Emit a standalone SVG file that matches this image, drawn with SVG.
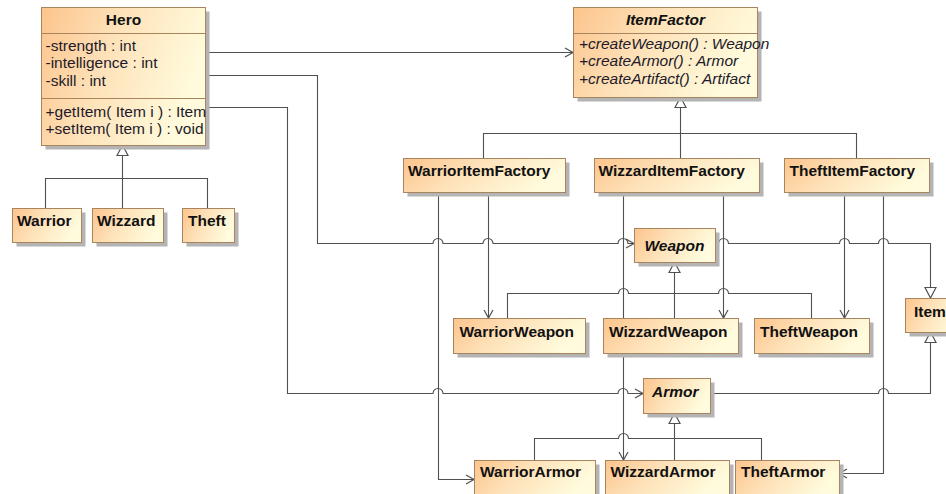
<svg xmlns="http://www.w3.org/2000/svg" width="946" height="494" viewBox="0 0 946 494">
<style>
.box{fill:url(#g);stroke:#a8855f;stroke-width:1}
.sh{fill:#b4b4b4}
.dv{stroke:#a8855f;stroke-width:1}
.n{font-family:"Liberation Sans",Arial,sans-serif;font-size:15.5px;font-weight:bold;fill:#111}
.ni{font-family:"Liberation Sans",Arial,sans-serif;font-size:15.5px;font-weight:bold;font-style:italic;fill:#111}
.m{font-family:"Liberation Sans",Arial,sans-serif;font-size:15.5px;fill:#221a2a}
.mi{font-family:"Liberation Sans",Arial,sans-serif;font-size:15.5px;font-style:italic;fill:#221a2a}
.c{fill:none;stroke:#505050;stroke-width:1.1}
.a{marker-end:url(#open)}
.t{marker-end:url(#tri)}
</style>
<defs>
<linearGradient id="g" x1="0" y1="0" x2="1" y2="0.3">
<stop offset="0" stop-color="#fcc48c"/>
<stop offset="0.45" stop-color="#fee1b8"/>
<stop offset="1" stop-color="#fffbdc"/>
</linearGradient>
<marker id="open" markerUnits="userSpaceOnUse" markerWidth="12" markerHeight="12" refX="9" refY="5" orient="auto" overflow="visible">
<path d="M1,0.5 L9,5 L1,9.5" fill="none" stroke="#505050" stroke-width="1.2"/>
</marker>
<marker id="tri" markerUnits="userSpaceOnUse" markerWidth="14" markerHeight="14" refX="11" refY="6" orient="auto" overflow="visible">
<path d="M0.5,0.5 L11,6 L0.5,11.5 Z" fill="#fff" stroke="#505050" stroke-width="1.2"/>
</marker>
</defs>
<rect width="946" height="494" fill="#fff"/>

<g id="connectors">
<!-- Hero associations -->
<path class="c a" d="M205,52.5 H573"/>
<path class="c a" d="M205,75.5 H317.5 V243.5 H433 A5,5 0 0 1 443,243.5 H483 A5,5 0 0 1 493,243.5 H618 A5,5 0 0 1 628,243.5 H634"/>
<path class="c a" d="M205,107.5 H287.5 V393.5 H433 A5,5 0 0 1 443,393.5 H618 A5,5 0 0 1 628,393.5 H643"/>
<!-- Hero generalization -->
<path class="c" d="M45.5,208 V178.5 H207.5 V208"/>
<path class="c t" d="M122.5,208 V145"/>
<!-- ItemFactor generalization -->
<path class="c" d="M483.5,158 V133.5 H856.5 V158"/>
<path class="c t" d="M680.5,158 V97"/>
<!-- factory associations -->
<path class="c a" d="M438.5,192 V479.5 H474"/>
<path class="c a" d="M488.5,192 V318"/>
<path class="c a" d="M623.5,192 V460"/>
<path class="c a" d="M723.5,192 V318"/>
<path class="c a" d="M844.5,192 V318"/>
<path class="c a" d="M883.5,192 V473.5 H839"/>
<!-- Weapon generalization -->
<path class="c" d="M507.5,318 V293.5 H618.5 A5,5 0 0 1 628.5,293.5 H718.5 A5,5 0 0 1 728.5,293.5 H811.5 V318"/>
<path class="c t" d="M674.5,318 V262"/>
<!-- Armor generalization -->
<path class="c" d="M534.5,460 V438.5 H618.5 A5,5 0 0 1 628.5,438.5 H761.5 V460"/>
<path class="c t" d="M674.5,460 V413"/>
<!-- Item generalizations -->
<path class="c t" d="M715,243.5 H718.5 A5,5 0 0 1 728.5,243.5 H839.5 A5,5 0 0 1 849.5,243.5 H878.5 A5,5 0 0 1 888.5,243.5 H930.5 V298"/>
<path class="c t" d="M710,393.5 H878.5 A5,5 0 0 1 888.5,393.5 H930.5 V332"/>
</g>

<g id="Hero">
<rect class="sh" x="45.5" y="11.5" width="164" height="138"/>
<rect class="box" x="41.5" y="7.5" width="164" height="138"/>
<line class="dv" x1="41.5" y1="33.5" x2="205.5" y2="33.5"/>
<line class="dv" x1="41.5" y1="98.5" x2="205.5" y2="98.5"/>
<text class="n" x="123.5" y="25" text-anchor="middle">Hero</text>
<text class="m" x="45.5" y="51">-strength : int</text>
<text class="m" x="45.5" y="68">-intelligence : int</text>
<text class="m" x="45.5" y="86">-skill : int</text>
<text class="m" x="45.5" y="117">+getItem( Item i ) : Item</text>
<text class="m" x="45.5" y="134">+setItem( Item i ) : void</text>
</g>

<g id="Warrior">
<rect class="sh" x="16.5" y="212.5" width="69" height="34"/>
<rect class="box" x="12.5" y="208.5" width="69" height="34"/>
<text class="n" x="17" y="226">Warrior</text>
</g>
<g id="Wizzard">
<rect class="sh" x="96.5" y="212.5" width="71" height="34"/>
<rect class="box" x="92.5" y="208.5" width="71" height="34"/>
<text class="n" x="97" y="226">Wizzard</text>
</g>
<g id="Theft">
<rect class="sh" x="186.5" y="212.5" width="52" height="34"/>
<rect class="box" x="182.5" y="208.5" width="52" height="34"/>
<text class="n" x="188" y="226">Theft</text>
</g>

<g id="ItemFactor">
<rect class="sh" x="577.5" y="11.5" width="184" height="90"/>
<rect class="box" x="573.5" y="7.5" width="184" height="90"/>
<line class="dv" x1="573.5" y1="33.5" x2="757.5" y2="33.5"/>
<text class="ni" x="665.5" y="25" text-anchor="middle">ItemFactor</text>
<text class="mi" x="579" y="49">+createWeapon() : Weapon</text>
<text class="mi" x="579" y="66">+createArmor() : Armor</text>
<text class="mi" x="579" y="84">+createArtifact() : Artifact</text>
</g>

<g id="WarriorItemFactory">
<rect class="sh" x="407.5" y="162.5" width="162" height="34"/>
<rect class="box" x="403.5" y="158.5" width="162" height="34"/>
<text class="n" x="408" y="176">WarriorItemFactory</text>
</g>
<g id="WizzardItemFactory">
<rect class="sh" x="598.5" y="162.5" width="165" height="34"/>
<rect class="box" x="594.5" y="158.5" width="165" height="34"/>
<text class="n" x="598.5" y="176">WizzardItemFactory</text>
</g>
<g id="TheftItemFactory">
<rect class="sh" x="788.5" y="162.5" width="145" height="34"/>
<rect class="box" x="784.5" y="158.5" width="145" height="34"/>
<text class="n" x="789.5" y="176">TheftItemFactory</text>
</g>

<g id="Weapon">
<rect class="sh" x="638.5" y="232.5" width="81" height="34"/>
<rect class="box" x="634.5" y="228.5" width="81" height="34"/>
<text class="ni" x="674.5" y="251" text-anchor="middle">Weapon</text>
</g>
<g id="WarriorWeapon">
<rect class="sh" x="457.5" y="322.5" width="132" height="35"/>
<rect class="box" x="453.5" y="318.5" width="132" height="35"/>
<text class="n" x="459.5" y="337">WarriorWeapon</text>
</g>
<g id="WizzardWeapon">
<rect class="sh" x="607.5" y="322.5" width="135" height="35"/>
<rect class="box" x="603.5" y="318.5" width="135" height="35"/>
<text class="n" x="609" y="337">WizzardWeapon</text>
</g>
<g id="TheftWeapon">
<rect class="sh" x="758.5" y="322.5" width="115" height="35"/>
<rect class="box" x="754.5" y="318.5" width="115" height="35"/>
<text class="n" x="760" y="337">TheftWeapon</text>
</g>

<g id="Item">
<rect class="sh" x="909.5" y="302.5" width="60" height="34"/>
<rect class="box" x="905.5" y="298.5" width="60" height="34"/>
<text class="n" x="914" y="317">Item</text>
</g>

<g id="Armor">
<rect class="sh" x="647.5" y="382.5" width="67" height="35"/>
<rect class="box" x="643.5" y="378.5" width="67" height="35"/>
<text class="ni" x="652" y="397">Armor</text>
</g>
<g id="WarriorArmor">
<rect class="sh" x="478.5" y="464.5" width="121" height="34"/>
<rect class="box" x="474.5" y="460.5" width="121" height="34"/>
<text class="n" x="480" y="477">WarriorArmor</text>
</g>
<g id="WizzardArmor">
<rect class="sh" x="609.5" y="464.5" width="124" height="34"/>
<rect class="box" x="605.5" y="460.5" width="124" height="34"/>
<text class="n" x="610.5" y="477">WizzardArmor</text>
</g>
<g id="TheftArmor">
<rect class="sh" x="739.5" y="464.5" width="104" height="34"/>
<rect class="box" x="735.5" y="460.5" width="104" height="34"/>
<text class="n" x="741" y="477">TheftArmor</text>
</g>
</svg>
